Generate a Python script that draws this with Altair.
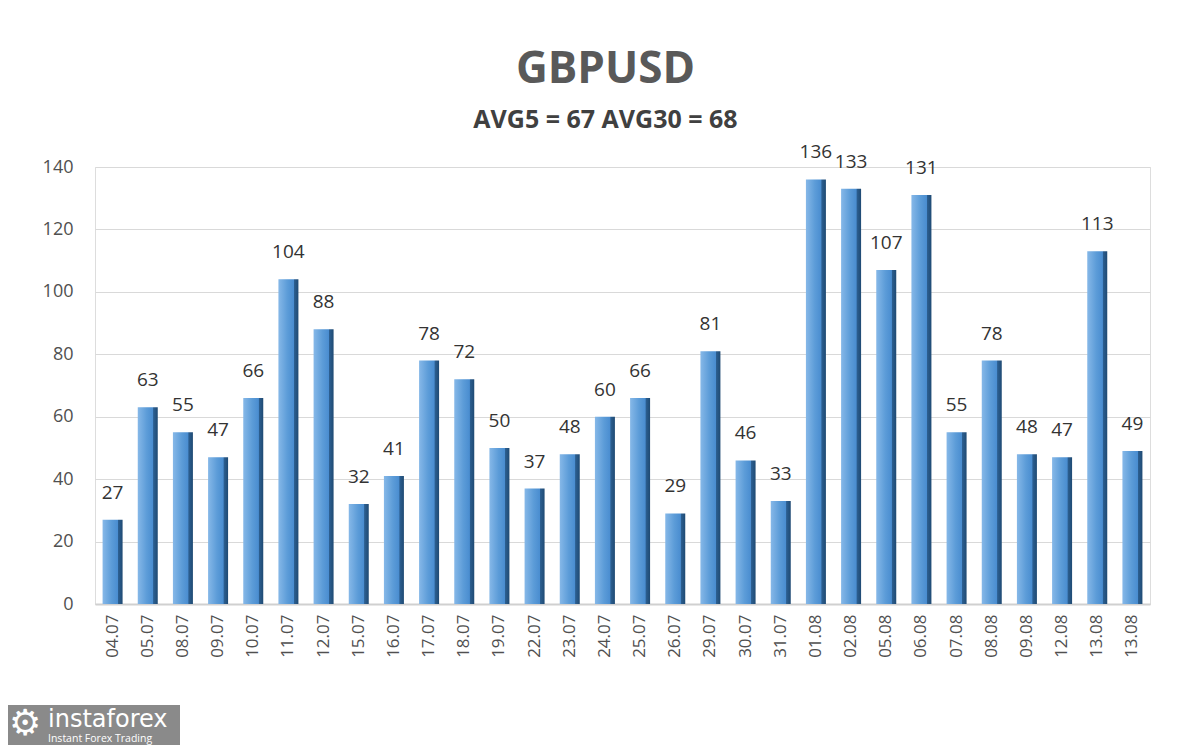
import altair as alt
import pandas as pd

dates = ["04.07", "05.07", "08.07", "09.07", "10.07", "11.07", "12.07", "15.07", "16.07",
         "17.07", "18.07", "19.07", "22.07", "23.07", "24.07", "25.07", "26.07", "29.07",
         "30.07", "31.07", "01.08", "02.08", "05.08", "06.08", "07.08", "08.08", "09.08",
         "12.08", "13.08", "13.08"]
values = [27, 63, 55, 47, 66, 104, 88, 32, 41, 78, 72, 50, 37, 48, 60, 66, 29, 81, 46, 33,
          136, 133, 107, 131, 55, 78, 48, 47, 113, 49]

df = pd.DataFrame({"idx": list(range(len(dates))), "date": dates, "value": values})

label_expr = "[" + ",".join("'%s'" % d for d in dates) + "][datum.value]"
FONT = "Open Sans"

x_enc = alt.X("idx:O", axis=alt.Axis(
    labelExpr=label_expr, labelAngle=-90, labelFontSize=17, labelColor="#505050",
    labelFont=FONT, labelPadding=10, ticks=False, domainColor="#d0d0d0", domainWidth=2,
    title=None), scale=alt.Scale(paddingInner=0.42, paddingOuter=0.21))
y_enc = alt.Y("value:Q", scale=alt.Scale(domain=[0, 140]), axis=alt.Axis(
    values=[0, 20, 40, 60, 80, 100, 120, 140], labelFontSize=18, labelColor="#505050",
    labelFont=FONT, labelPadding=22, ticks=False, domain=False, gridColor="#d9d9d9",
    gridWidth=1.2, title=None))

grad = alt.Gradient(gradient="linear", x1=0, x2=1, y1=0, y2=0, stops=[
    alt.GradientStop(offset=0, color="#86b8e8"),
    alt.GradientStop(offset=0.45, color="#5c9cd8"),
    alt.GradientStop(offset=0.76, color="#4a8dd0"),
    alt.GradientStop(offset=0.79, color="#2c5f91"),
    alt.GradientStop(offset=1, color="#1f4a73"),
])

base = alt.Chart(df)
bars = base.mark_bar(color=grad, size=20).encode(x=x_enc, y=y_enc)
labels = base.mark_text(dy=-27, fontSize=19, font=FONT, color="#333333").encode(
    x=x_enc, y=y_enc, text="value:Q")

logo_df = pd.DataFrame({"a": [1]})
logo_box = alt.Chart(logo_df).mark_rect(color="#8a8a8a").encode(
    x=alt.value(-87), x2=alt.value(85), y=alt.value(538), y2=alt.value(578))
logo_t1 = alt.Chart(logo_df).mark_text(text="instaforex", fontSize=24, color="white",
                                       font="DejaVu Sans", align="left", baseline="alphabetic").encode(
    x=alt.value(-47), y=alt.value(560))
logo_t2 = alt.Chart(logo_df).mark_text(text="Instant Forex Trading", fontSize=10.5, color="white",
                                       font=FONT, align="left", baseline="alphabetic").encode(
    x=alt.value(-47), y=alt.value(575))
logo_icon = alt.Chart(logo_df).mark_text(text="⚙", fontSize=36, color="white",
                                         align="center", baseline="middle").encode(
    x=alt.value(-70), y=alt.value(557))

chart = alt.layer(bars, labels, logo_box, logo_icon, logo_t1, logo_t2).properties(
    width=1055, height=437,
    autosize=alt.AutoSizeParams(type="none"),
    padding={"left": 87, "top": 159, "right": 40, "bottom": 142},
    title=alt.TitleParams(text="GBPUSD", subtitle="AVG5 = 67 AVG30 = 68",
                          fontSize=44, font=FONT, fontWeight="bold", color="#595959",
                          subtitleFontSize=25, subtitleFont=FONT, subtitleFontWeight="bold",
                          subtitleColor="#404040", subtitlePadding=16,
                          anchor="middle", dx=-17, offset=10),
).configure_view(stroke=None).configure(background="white")

chart.save("out.html", embed_options={"renderer": "svg", "actions": False})
